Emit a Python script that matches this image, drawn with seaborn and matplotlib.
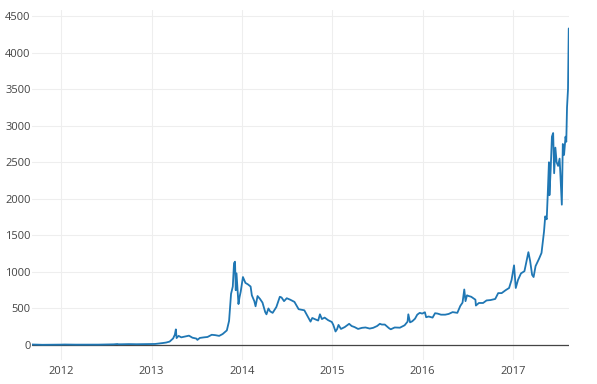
import numpy as np
import pandas as pd
import matplotlib
matplotlib.use("Agg")
import matplotlib.pyplot as plt
import matplotlib.dates as mdates
import seaborn as sns

# BTC price averaged across exchanges (USD)
dates = [
    "2011-09-06", "2011-09-20", "2011-10-04", "2011-10-18", "2011-11-01", "2011-11-15",
    "2011-12-01", "2011-12-15", "2012-01-01", "2012-01-15", "2012-02-01", "2012-02-15",
    "2012-03-01", "2012-04-01", "2012-05-01", "2012-06-01", "2012-07-01", "2012-08-01",
    "2012-08-16", "2012-08-20", "2012-09-01", "2012-10-01", "2012-11-01", "2012-12-01",
    "2013-01-01", "2013-01-15", "2013-02-01", "2013-02-15", "2013-03-01", "2013-03-15",
    "2013-03-29", "2013-04-05", "2013-04-09", "2013-04-12", "2013-04-16", "2013-04-20",
    "2013-05-01", "2013-05-15", "2013-06-01", "2013-06-15", "2013-07-01", "2013-07-05",
    "2013-07-15", "2013-08-01", "2013-08-15", "2013-09-01", "2013-09-15", "2013-10-01",
    "2013-10-15", "2013-11-01", "2013-11-10", "2013-11-18", "2013-11-25", "2013-11-30",
    "2013-12-04", "2013-12-07", "2013-12-10", "2013-12-18", "2013-12-22", "2013-12-27",
    "2014-01-05", "2014-01-15", "2014-01-25", "2014-02-05", "2014-02-10", "2014-02-20",
    "2014-02-25", "2014-03-05", "2014-03-15", "2014-03-25", "2014-04-05", "2014-04-10",
    "2014-04-18", "2014-04-25", "2014-05-05", "2014-05-20", "2014-05-30", "2014-06-03",
    "2014-06-10", "2014-06-20", "2014-07-01", "2014-07-15", "2014-08-01", "2014-08-18",
    "2014-09-01", "2014-09-10", "2014-09-22", "2014-10-05", "2014-10-12", "2014-10-25",
    "2014-11-05", "2014-11-12", "2014-11-20", "2014-12-01", "2014-12-15", "2014-12-30",
    "2015-01-05", "2015-01-14", "2015-01-20", "2015-01-26", "2015-02-05", "2015-02-20",
    "2015-03-10", "2015-03-20", "2015-04-01", "2015-04-15", "2015-05-01", "2015-05-15",
    "2015-06-01", "2015-06-15", "2015-07-01", "2015-07-12", "2015-07-20", "2015-08-01",
    "2015-08-18", "2015-08-25", "2015-09-10", "2015-10-01", "2015-10-20", "2015-11-01",
    "2015-11-04", "2015-11-11", "2015-11-20", "2015-12-01", "2015-12-10", "2015-12-20",
    "2015-12-30", "2016-01-10", "2016-01-15", "2016-01-25", "2016-02-10", "2016-02-20",
    "2016-03-01", "2016-03-15", "2016-04-01", "2016-04-15", "2016-05-01", "2016-05-20",
    "2016-06-01", "2016-06-10", "2016-06-17", "2016-06-22", "2016-06-28", "2016-07-05",
    "2016-07-15", "2016-08-01", "2016-08-03", "2016-08-15", "2016-09-01", "2016-09-15",
    "2016-10-01", "2016-10-20", "2016-11-01", "2016-11-15", "2016-12-01", "2016-12-15",
    "2016-12-25", "2017-01-04", "2017-01-11", "2017-01-20", "2017-02-01", "2017-02-15",
    "2017-02-25", "2017-03-03", "2017-03-10", "2017-03-18", "2017-03-24", "2017-04-01",
    "2017-04-15", "2017-04-25", "2017-05-05", "2017-05-10", "2017-05-16", "2017-05-20",
    "2017-05-25", "2017-05-27", "2017-06-01", "2017-06-06", "2017-06-11", "2017-06-15",
    "2017-06-20", "2017-06-25", "2017-07-01", "2017-07-07", "2017-07-10", "2017-07-16",
    "2017-07-20", "2017-07-25", "2017-07-31", "2017-08-03", "2017-08-06", "2017-08-10",
    "2017-08-13",
]
prices = [
    7.0, 5.5, 5.0, 3.0, 3.3, 2.5,
    3.0, 3.2, 5.3, 6.8, 5.9, 4.5,
    4.9, 4.9, 5.0, 5.3, 6.7, 9.4,
    13.5, 10.0, 10.2, 12.4, 10.7, 12.5,
    13.3, 14.2, 20.4, 27, 34, 47,
    90, 142, 214, 95, 110, 125,
    105, 115, 128, 100, 88, 70,
    97, 105, 110, 140, 135, 125,
    150, 200, 330, 700, 800, 1120,
    1140, 750, 980, 560, 650, 730,
    930, 850, 830, 800, 680, 600,
    530, 670, 630, 580, 450, 420,
    500, 460, 440, 520, 620, 660,
    650, 600, 640, 620, 590, 490,
    480, 475, 400, 320, 370, 350,
    335, 420, 355, 375, 340, 315,
    275, 185, 215, 275, 220, 245,
    290, 260, 245, 220, 235, 240,
    225, 235, 260, 290, 280, 280,
    230, 215, 240, 237, 270, 320,
    420, 310, 325, 360, 415, 440,
    430, 448, 380, 390, 375, 435,
    430, 415, 415, 425, 450, 440,
    535, 580, 760, 600, 680, 670,
    660, 620, 540, 575, 575, 610,
    615, 630, 710, 710, 750, 780,
    890, 1090, 780, 890, 980, 1010,
    1170, 1270, 1150, 960, 930, 1080,
    1180, 1260, 1550, 1760, 1720, 2050,
    2500, 2050, 2400, 2850, 2900, 2350,
    2700, 2500, 2450, 2550, 2350, 1920,
    2750, 2600, 2850, 2780, 3250, 3500,
    4330,
]
y_ticks = [0, 500, 1000, 1500, 2000, 2500, 3000, 3500, 4000, 4500]

df = pd.DataFrame({"date": pd.to_datetime(dates), "price": prices})

sns.set_style("white")
plt.rcParams["font.family"] = ["Open Sans", "DejaVu Sans"]

fig = plt.figure(figsize=(5.97, 3.84), dpi=100)
ax = fig.add_axes([32 / 597, 24 / 384, 537 / 597, 350 / 384])

sns.lineplot(data=df, x="date", y="price", ax=ax, color="#1f77b4", linewidth=1.3)

ax.set_xlim(pd.Timestamp("2011-09-06"), pd.Timestamp("2017-08-14"))
ax.set_ylim(-205, 4583)
ax.set_yticks(y_ticks)
ax.xaxis.set_major_locator(mdates.YearLocator())
ax.xaxis.set_major_formatter(mdates.DateFormatter("%Y"))

ax.grid(True, color="#eeeeee", linewidth=0.8)
ax.set_axisbelow(True)
ax.axhline(0, color="#444444", linewidth=0.9, zorder=1)
for s in ax.spines.values():
    s.set_visible(False)
ax.tick_params(axis="both", length=0, labelsize=8, colors="#444444")
ax.tick_params(axis="y", pad=1)
ax.tick_params(axis="x", pad=4)
ax.set_xlabel("")
ax.set_ylabel("")

fig.savefig("out.png", dpi=100)
